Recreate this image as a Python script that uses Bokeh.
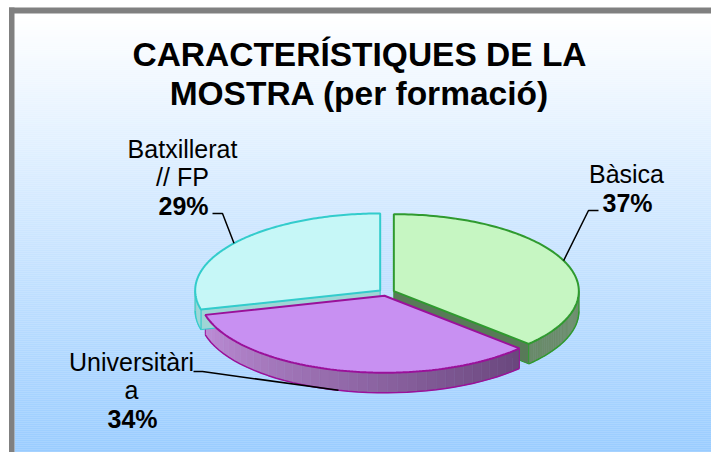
import numpy as np
from bokeh.plotting import figure
from bokeh.models import Range1d
from bokeh.core.properties import value
from bokeh.embed import file_html
from bokeh.resources import INLINE

# ---- data ----
title_lines = ["CARACTERÍSTIQUES DE LA", "MOSTRA (per formació)"]
categories = ["Bàsica", "Universitària", "Batxillerat // FP"]
label_lines = [["Bàsica"], ["Universitàri", "a"], ["Batxillerat", "// FP"]]
percents = [37, 34, 29]

# ---- style ----
top_colors = ["#c6f6c2", "#c890f2", "#c6f7f7"]
edge_colors = ["#2f9a2f", "#9a109a", "#33cccc"]
wall_from = [(112, 145, 112), (75, 45, 92), (175, 228, 228)]
wall_to = [(85, 115, 85), (200, 150, 226), (160, 215, 215)]
cut_colors = ["#587a58", "#6a4a7a", "#9ed6d6"]

FONT = value("Liberation Sans")
W, H = 711, 452
p = figure(width=W, height=H, x_range=Range1d(0, W), y_range=Range1d(H, 0),
           output_backend="svg", toolbar_location=None, min_border=0)
p.xaxis.visible = False
p.yaxis.visible = False
p.grid.visible = False
p.outline_line_color = None
p.background_fill_color = "white"
p.border_fill_color = "white"

# background gradient (inside the frame)
ys = np.arange(13, H + 2, 2)
def bg(y):
    t = np.clip((y - 15) / (452 - 15), 0, 1)
    c = np.array([255, 255, 255]) * (1 - t) + np.array([153, 204, 255]) * t
    return "#%02x%02x%02x" % tuple(int(round(v)) for v in c)
p.quad(left=14, right=W, top=list(ys), bottom=list(ys + 2.2),
       fill_color=[bg(y) for y in ys], line_color=None)
# frame border (top and left)
p.quad(left=8.5, right=W, top=7, bottom=13, fill_color="#808080", line_color=None)
p.quad(left=8.5, right=14, top=7, bottom=H, fill_color="#808080", line_color=None)

# ---- 3D pie ----
cx, cy, rx, ry, depth, expl = 386, 292, 185, 77, 20, 8
fr = np.array(percents, dtype=float) / sum(percents)
ends = np.cumsum(fr) * 2 * np.pi
starts = ends - fr * 2 * np.pi
mids = (starts + ends) / 2
centers = [(cx + expl * np.sin(m), cy - expl * ry / rx * np.cos(m)) for m in mids]

def edge(c, th):
    return c[0] + rx * np.sin(th), c[1] - ry * np.cos(th)

def mix(a, b, t):
    return "#%02x%02x%02x" % tuple(int(round(a[i] * (1 - t) + b[i] * t)) for i in range(3))

# walls
for i in range(len(percents)):
    c = centers[i]
    s, e = starts[i], ends[i]
    for th, normal in ((s, s - np.pi / 2), (e, e + np.pi / 2)):
        if np.cos(normal) < -0.05:
            ex, ey = edge(c, th)
            p.patch([c[0], ex, ex, c[0]], [c[1], ey, ey + depth, c[1] + depth],
                    fill_color=cut_colors[i], line_color=edge_colors[i], line_width=1)
    a, b = max(s, np.pi / 2), min(e, 3 * np.pi / 2)
    if a < b:
        n = 40
        th = np.linspace(a, b, n + 1)
        for k in range(n):
            t0, t1 = th[k], th[k + 1]
            x0, y0 = edge(c, t0)
            x1, y1 = edge(c, t1)
            frac = ((t0 + t1) / 2 - np.pi / 2) / np.pi
            col = mix(wall_from[i], wall_to[i], frac)
            p.patch([x0, x1, x1, x0], [y0, y1, y1 + depth, y0 + depth],
                    fill_color=col, line_color=col, line_width=0.6)
        bx, by = edge(c, th)
        p.line(bx, by + depth, line_color=edge_colors[i], line_width=1.5)
        x0, y0 = edge(c, a)
        x1, y1 = edge(c, b)
        p.line([x0, x0], [y0, y0 + depth], line_color=edge_colors[i], line_width=1)
        p.line([x1, x1], [y1, y1 + depth], line_color=edge_colors[i], line_width=1)

# tops
for i in range(len(percents)):
    c = centers[i]
    th = np.linspace(starts[i], ends[i], 120)
    ex, ey = edge(c, th)
    p.patch(np.concatenate([[c[0]], ex]), np.concatenate([[c[1]], ey]),
            fill_color=top_colors[i], line_color=edge_colors[i], line_width=2)

# ---- labels & leader lines ----
LBL = 25
shift_l = 0.35 * LBL     # svg text is positioned by its middle
label_x = [626, 131, 182]
label_base = [182, 370, 157]
line_gap = 28.5
leader_start = [(598, 210), (193, 371), (212, 213)]
leader_knee = [(588, 210), (202, 371), (222, 213)]
for i in range(len(percents)):
    c = centers[i]
    ex, ey = edge(c, mids[i])
    if np.cos(mids[i]) < 0:
        ey = ey + depth
    p.line([leader_start[i][0], leader_knee[i][0], ex],
           [leader_start[i][1], leader_knee[i][1], ey],
           line_color="black", line_width=1.5)
    lines = label_lines[i]
    yb = label_base[i]
    for j, t in enumerate(lines):
        p.text(x=[label_x[i]], y=[yb + j * line_gap - shift_l], text=[t], text_font=FONT,
               text_font_size="%dpx" % LBL, text_align="center", text_baseline="alphabetic",
               text_color="black")
    p.text(x=[label_x[i] + 1], y=[yb + len(lines) * line_gap + 0.5 - shift_l],
           text=["%d%%" % percents[i]],
           text_font=FONT, text_font_size="%dpx" % LBL, text_font_style="bold",
           text_align="center", text_baseline="alphabetic", text_color="black")

# ---- title ----
TS = 33.5
p.text(x=[359, 359], y=[66 - 0.35 * TS, 105 - 0.35 * TS], text=title_lines, text_font=FONT,
       text_font_size="%spx" % TS, text_font_style="bold", text_align="center",
       text_baseline="alphabetic", text_color="black")

open("out.html", "w").write(file_html(p, INLINE))
